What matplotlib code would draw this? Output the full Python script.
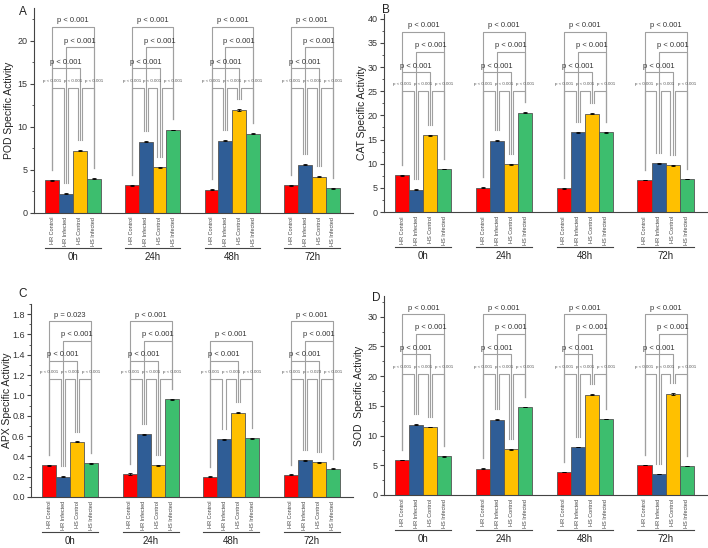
import matplotlib
matplotlib.use('Agg')
import matplotlib.pyplot as plt
from matplotlib.transforms import blended_transform_factory, offset_copy
from matplotlib.ticker import MultipleLocator, AutoMinorLocator, FormatStrFormatter

plt.rcParams['font.family'] = ['Liberation Sans', 'DejaVu Sans']

timepoints = ['0h', '24h', '48h', '72h']
treatments = ['HR Control', 'HR Infected', 'HS Control', 'HS Infected']
bar_colors = ['#FF0000', '#2F5D96', '#FFC000', '#3DBE6E']

# values per time point: [HR Control, HR Infected, HS Control, HS Infected]
pod_values = [[3.8, 2.25, 7.25, 4.0], [3.2, 8.3, 5.3, 9.65], [2.7, 8.4, 12.0, 9.2], [3.2, 5.6, 4.2, 2.87]]
pod_errors = [[0.05, 0.08, 0.05, 0.05], [0.04, 0.05, 0.05, 0.05], [0.04, 0.06, 0.1, 0.06], [0.04, 0.05, 0.05, 0.04]]
cat_values = [[7.6, 4.6, 15.9, 8.9], [5.05, 14.8, 9.85, 20.6], [4.9, 16.5, 20.35, 16.5], [6.65, 10.05, 9.7, 6.85]]
cat_errors = [[0.08, 0.08, 0.1, 0.08], [0.06, 0.1, 0.1, 0.1], [0.06, 0.1, 0.12, 0.12], [0.06, 0.1, 0.1, 0.08]]
apx_values = [[0.311, 0.200, 0.544, 0.331], [0.226, 0.620, 0.311, 0.960], [0.200, 0.567, 0.830, 0.577], [0.220, 0.360, 0.341, 0.279]]
apx_errors = [[0.005, 0.006, 0.004, 0.003], [0.006, 0.005, 0.005, 0.004], [0.005, 0.005, 0.006, 0.005], [0.003, 0.008, 0.006, 0.005]]
sod_values = [[5.88, 11.86, 11.47, 6.5], [4.46, 12.66, 7.68, 14.8], [3.9, 8.08, 16.9, 12.8], [5.08, 3.56, 17.0, 4.86]]
sod_errors = [[0.05, 0.06, 0.06, 0.05], [0.05, 0.06, 0.06, 0.06], [0.05, 0.06, 0.08, 0.06], [0.05, 0.05, 0.15, 0.05]]

# significance labels: (top 0-3, middle 1-3, low 0-2, adjacent pairs)
P = 'p < 0.001'
pod_p = [(P, P, P, (P, P, P))] * 4
cat_p = [(P, P, P, (P, P, P))] * 4
apx_p = [('p = 0.023', P, P, (P, P, P)), (P, P, P, (P, P, P)),
         (None, None, P, (P, P, P)), (P, P, P, (P, 'p = 0.023', P))]
sod_p = [(P, P, P, (P, P, P))] * 4

panels = [
    dict(letter='A', ylabel='POD Specific Activity', values=pod_values, errors=pod_errors, pvals=pod_p,
         rect=(34, 8.3, 353, 213), ylim=23.8, major=5, fmt='%d', lab=-20, letpos=(23, 12)),
    dict(letter='B', ylabel='CAT Specific Activity', values=cat_values, errors=cat_errors, pvals=cat_p,
         rect=(384, 14, 707, 212), ylim=41, major=5, fmt='%d', lab=-17, letpos=(386, 10)),
    dict(letter='C', ylabel='APX Specific Activity', values=apx_values, errors=apx_errors, pvals=apx_p,
         rect=(31, 304, 353, 497), ylim=1.9, major=0.2, fmt='%.1f', lab=-19, letpos=(23, 294)),
    dict(letter='D', ylabel='SOD  Specific Activity', values=sod_values, errors=sod_errors, pvals=sod_p,
         rect=(384, 296, 707, 495), ylim=33.5, major=5, fmt='%d', lab=-20, letpos=(376, 298)),
]

W, H = 708, 548
fig = plt.figure(figsize=(W / 100, H / 100), dpi=100)

GROUP_STEP = 5.75
LEVELS = [0.91, 0.81, 0.707]
SMALL_LEVEL = 0.61
BR_COLOR = '#a0a0a0'
AX_COLOR = '#444444'

for pan in panels:
    l, t, r, b = pan['rect']
    ax = fig.add_axes([l / W, 1 - b / H, (r - l) / W, (b - t) / H])
    ymax = pan['ylim']
    ax.set_ylim(0, ymax)
    ax.set_xlim(-1.3, 3 * GROUP_STEP + 3.5 + 0.95)
    for s in ['top', 'right']:
        ax.spines[s].set_visible(False)
    for s in ['left', 'bottom']:
        ax.spines[s].set_color(AX_COLOR)
        ax.spines[s].set_linewidth(0.8)
    ax.set_xticks([])
    ax.yaxis.set_major_locator(MultipleLocator(pan['major']))
    ax.yaxis.set_minor_locator(AutoMinorLocator(2))
    ax.yaxis.set_major_formatter(FormatStrFormatter(pan['fmt']))
    ax.tick_params(axis='y', which='major', direction='out', length=3, width=0.8,
                   color=AX_COLOR, labelsize=6.5, labelcolor='#333333', pad=1.5)
    ax.tick_params(axis='y', which='minor', direction='out', length=1.7, width=0.6, color=AX_COLOR)
    ax.set_ylabel(pan['ylabel'], fontsize=7.5, color='#222222')
    ax.yaxis.set_label_coords(pan['lab'] / (r - l), 0.5)

    trans = blended_transform_factory(ax.transData, ax.transAxes)
    gap = 0.05 * ymax

    for g, tp in enumerate(timepoints):
        xs = [g * GROUP_STEP + i for i in range(4)]
        vals = pan['values'][g]
        errs = pan['errors'][g]
        ax.bar(xs, vals, width=1.0, color=bar_colors, edgecolor='#555555', linewidth=0.6, zorder=2)
        ax.errorbar(xs, vals, yerr=errs, fmt='none', ecolor='black', elinewidth=0.6,
                    capsize=1.5, capthick=0.6, zorder=3)
        tops = [v + e + gap for v, e in zip(vals, errs)]

        # category labels
        lab_tr = offset_copy(trans, fig=fig, y=-4, units='dots')
        for x, name in zip(xs, treatments):
            ax.text(x, 0, name, rotation=90, ha='center', va='top', fontsize=4.0,
                    color='#444444', transform=lab_tr, clip_on=False)
        line_tr = offset_copy(trans, fig=fig, y=-35, units='dots')
        ax.plot([xs[0] - 0.5, xs[3] + 0.5], [0, 0], color=AX_COLOR, lw=0.8,
                transform=line_tr, clip_on=False)
        grp_tr = offset_copy(trans, fig=fig, y=-44, units='dots')
        ax.text(xs[0] + 1.5, 0, tp, ha='center', va='center', fontsize=7, color='#222222',
                transform=grp_tr, clip_on=False)

        # significance brackets
        top_lab, mid_lab, low_lab, pairs = pan['pvals'][g]
        big = []
        if top_lab is not None:
            big.append((0, 3, LEVELS[0], top_lab))
        if mid_lab is not None:
            big.append((1, 3, LEVELS[1], mid_lab))
        if top_lab is None and mid_lab is None:
            big.append((0, 3, LEVELS[1], P))
        if low_lab is not None:
            big.append((0, 2, LEVELS[2], low_lab))
        for i, j, lev, txt in big:
            ylev = lev * ymax
            ax.plot([xs[i], xs[i], xs[j], xs[j]], [tops[i], ylev, ylev, tops[j]],
                    color=BR_COLOR, lw=0.8, zorder=1, clip_on=False)
            ax.text((xs[i] + xs[j]) / 2, ylev + 0.012 * ymax, txt, ha='center', va='bottom',
                    fontsize=5.4, color='#333333')
        ysm = SMALL_LEVEL * ymax
        for k, txt in enumerate(pairs):
            i, j = k, k + 1
            xl = xs[i] + (0.15 if i > 0 else 0)
            xr = xs[j] - (0.15 if j < 3 else 0)
            ax.plot([xl, xl, xr, xr], [tops[i], ysm, ysm, tops[j]],
                    color=BR_COLOR, lw=0.8, zorder=1, clip_on=False)
            ax.text(xs[0] + 1.5 + (k - 1) * 1.5, ysm + 0.025 * ymax, txt, ha='center',
                    va='bottom', fontsize=3.2, color='#555555')

    fig.text(pan['letpos'][0] / W, 1 - pan['letpos'][1] / H, pan['letter'], fontsize=8.5,
             ha='center', va='center', color='#222222')

fig.savefig('out.png', dpi=100)
